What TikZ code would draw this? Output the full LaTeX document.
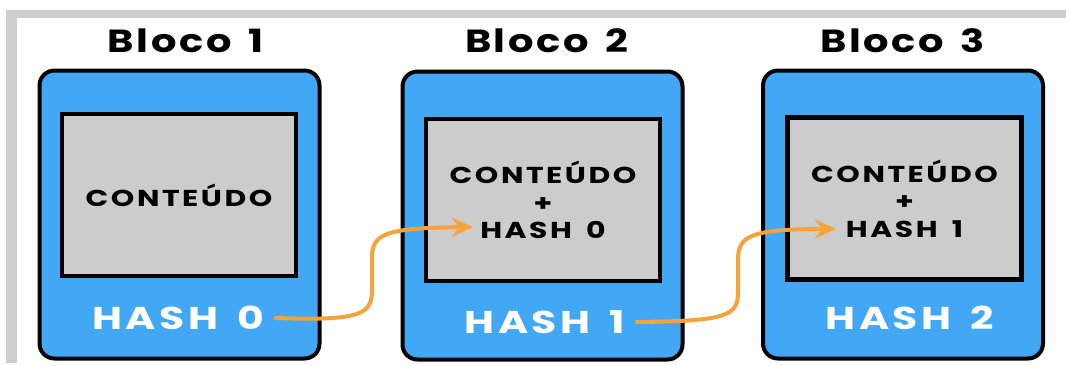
\documentclass[tikz,border=0pt]{standalone}
\usepackage{fontspec}
\setmainfont{Poppins}[BoldFont={* Bold}]
\newfontfamily\wide{Poppins}[BoldFont={* Bold},FakeStretch=1.3,LetterSpace=11,WordSpace=1.6]
\newfontfamily\widehead{Poppins}[BoldFont={* Bold},FakeStretch=1.25,LetterSpace=8,WordSpace=1.5]
\usetikzlibrary{arrows.meta}
\definecolor{blockblue}{RGB}{66,167,245}
\definecolor{boxgray}{RGB}{204,204,204}
\definecolor{framegray}{RGB}{206,206,206}
\definecolor{linkorange}{RGB}{245,163,58}
\tikzset{
  block/.style={draw=black, line width=4pt, fill=blockblue, rounded corners=15pt,
    minimum width=280pt, minimum height=288pt, inner sep=0pt},
  content/.style={draw=black, line width=4.5pt, fill=boxgray,
    minimum width=234pt, minimum height=162pt, inner sep=0pt,
    align=center, font=\wide\bfseries\fontsize{23}{27.5}\selectfont},
  title/.style={font=\widehead\bfseries\fontsize{32}{36}\selectfont, text=black},
  hashlbl/.style={font=\wide\bfseries\fontsize{31.5}{36}\selectfont, text=white},
  link/.style={draw=linkorange, line width=4pt, line cap=round,
    -{Stealth[length=21pt, width=19pt, inset=7pt]}}
}
\begin{document}
\begin{tikzpicture}[x=1pt, y=-1pt]
  \useasboundingbox (0,0) rectangle (1066,365);
  % frame bars
  \fill[framegray] (6,10) rectangle (1066,18);
  \fill[framegray] (6,10) rectangle (17,363);

  % blocks
  \node[block] (b1) at (179.5,214.5) {};
  \node[block] (b2) at (542.5,215.5) {};
  \node[block] (b3) at (903,214.5) {};

  \node[content] (c1) at (179,195) {CONTEÚDO};
  \node[content] (c2) at (543,200) {CONTEÚDO\\+\\HASH 0};
  \node[content] (c3) at (904.5,198.5) {CONTEÚDO\\+\\HASH 1};

  \node[title] (t1) at (185.5,41) {Bloco 1};
  \node[title] (t2) at (546.5,41) {Bloco 2};
  \node[title] (t3) at (902.5,41) {Bloco 3};

  \node[hashlbl] (h1) at (178.5,318) {HASH 0};
  \node[hashlbl] (h2) at (545,322) {HASH 1};
  \node[hashlbl] (h3) at (910,318) {HASH 2};

  % links from each hash to the next block's content
  \coordinate (p1) at (473,227);
  \coordinate (p2) at (836,229);
  \draw[link] (h1.east) ++(8,0) coordinate (s1)
    .. controls (362,321) and (372,314) .. (372,290)
    -- (372,258) .. controls (372,234) and (384,228) .. (p1);
  \draw[link] (h2.east) ++(8,0) coordinate (s2)
    .. controls (727,321) and (738,316) .. (738,292)
    -- (738,260) .. controls (738,236) and (750,229) .. (p2);
\end{tikzpicture}
\end{document}
